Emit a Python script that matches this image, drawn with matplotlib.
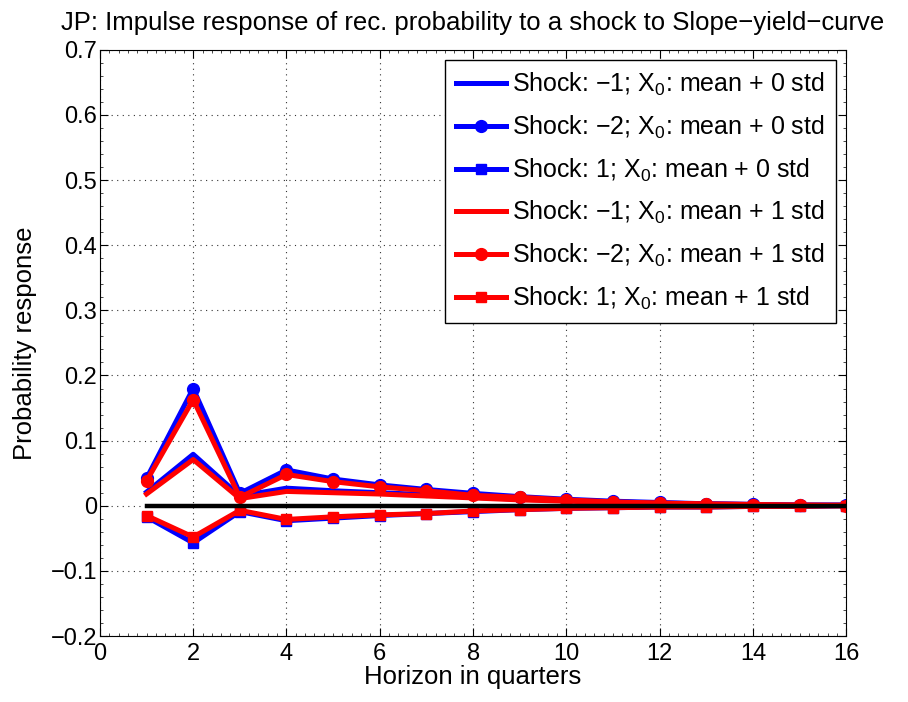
import matplotlib
matplotlib.use('Agg')
import matplotlib.pyplot as plt
from matplotlib.ticker import MultipleLocator

plt.rcParams['font.family'] = ['Liberation Sans', 'DejaVu Sans']
plt.rcParams['mathtext.fontset'] = 'custom'
plt.rcParams['mathtext.rm'] = 'Liberation Sans'
plt.rcParams['mathtext.it'] = 'Liberation Sans'

horizon = list(range(1, 17))

# mean + 0 std
m0_neg1 = [0.021, 0.079, 0.015, 0.027, 0.023, 0.020, 0.017, 0.013, 0.010, 0.008, 0.006, 0.004, 0.003, 0.002, 0.001, 0.001]
m0_neg2 = [0.042, 0.180, 0.019, 0.055, 0.041, 0.032, 0.025, 0.019, 0.014, 0.010, 0.007, 0.005, 0.003, 0.002, 0.001, 0.001]
m0_pos1 = [-0.017, -0.057, -0.009, -0.023, -0.019, -0.015, -0.012, -0.009, -0.006, -0.004, -0.003, -0.002, -0.002, -0.001, -0.001, 0.000]

# mean + 1 std
m1_neg1 = [0.018, 0.071, 0.011, 0.022, 0.020, 0.018, 0.015, 0.012, 0.009, 0.007, 0.005, 0.004, 0.003, 0.002, 0.001, 0.001]
m1_neg2 = [0.038, 0.163, 0.013, 0.048, 0.037, 0.029, 0.023, 0.016, 0.013, 0.009, 0.006, 0.004, 0.002, 0.001, 0.001, 0.000]
m1_pos1 = [-0.015, -0.048, -0.007, -0.021, -0.017, -0.014, -0.012, -0.008, -0.006, -0.004, -0.003, -0.002, -0.002, -0.001, -0.001, 0.000]

labels = [
    'Shock: \u22121; $\\mathregular{X_0}$: mean + 0 std',
    'Shock: \u22122; $\\mathregular{X_0}$: mean + 0 std',
    'Shock: 1; $\\mathregular{X_0}$: mean + 0 std',
    'Shock: \u22121; $\\mathregular{X_0}$: mean + 1 std',
    'Shock: \u22122; $\\mathregular{X_0}$: mean + 1 std',
    'Shock: 1; $\\mathregular{X_0}$: mean + 1 std',
]

fig = plt.figure(figsize=(9.08, 7.02), dpi=100)
ax = fig.add_axes([0.110, 0.094, 0.822, 0.835])

lw = 3.6
ms = 8.5
ax.plot(horizon, m0_neg1, color='#0000ff', lw=lw, label=labels[0])
ax.plot(horizon, m0_neg2, color='#0000ff', lw=lw, marker='o', ms=ms, label=labels[1])
ax.plot(horizon, m0_pos1, color='#0000ff', lw=lw, marker='s', ms=ms - 1, label=labels[2])
ax.plot(horizon, m1_neg1, color='#ff0000', lw=lw, label=labels[3])
ax.plot(horizon, m1_neg2, color='#ff0000', lw=lw, marker='o', ms=ms, label=labels[4])
ax.plot(horizon, m1_pos1, color='#ff0000', lw=lw, marker='s', ms=ms - 1, label=labels[5])
ax.plot([horizon[0], horizon[-1]], [0, 0], color='black', lw=3.2)

ax.set_xlim(0, 16)
ax.set_ylim(-0.2, 0.7)
ax.set_xticks(range(0, 17, 2))
ax.set_yticks([-0.2, -0.1, 0, 0.1, 0.2, 0.3, 0.4, 0.5, 0.6, 0.7])
ax.set_yticklabels(['\u22120.2', '\u22120.1', '0', '0.1', '0.2', '0.3', '0.4', '0.5', '0.6', '0.7'])
ax.xaxis.set_minor_locator(MultipleLocator(0.2))
ax.yaxis.set_minor_locator(MultipleLocator(0.02))
ax.tick_params(which='major', direction='in', labelsize=17, length=6, top=True, right=True)
ax.tick_params(axis='y', which='major', pad=2)
ax.tick_params(axis='x', which='major', pad=5)
ax.tick_params(which='minor', direction='in', length=2.5, width=0.5, top=True, right=True)
ax.grid(True, which='major', linestyle=(0, (1, 4)), color='#333333', lw=0.8)

ax.set_xlabel('Horizon in quarters', fontsize=18.5, labelpad=0)
ax.set_ylabel('Probability response', fontsize=18.5, labelpad=10)
ax.set_title('JP: Impulse response of rec. probability to a shock to Slope\u2212yield\u2212curve', fontsize=18.5, pad=14)

leg = ax.legend(loc='upper right', fontsize=18, fancybox=False, framealpha=1,
                edgecolor='black', handlelength=2.0, borderaxespad=0.4,
                labelspacing=0.62, handletextpad=0.25, borderpad=0.45)
leg.get_frame().set_linewidth(1.0)

fig.savefig('out.png', dpi=100)
